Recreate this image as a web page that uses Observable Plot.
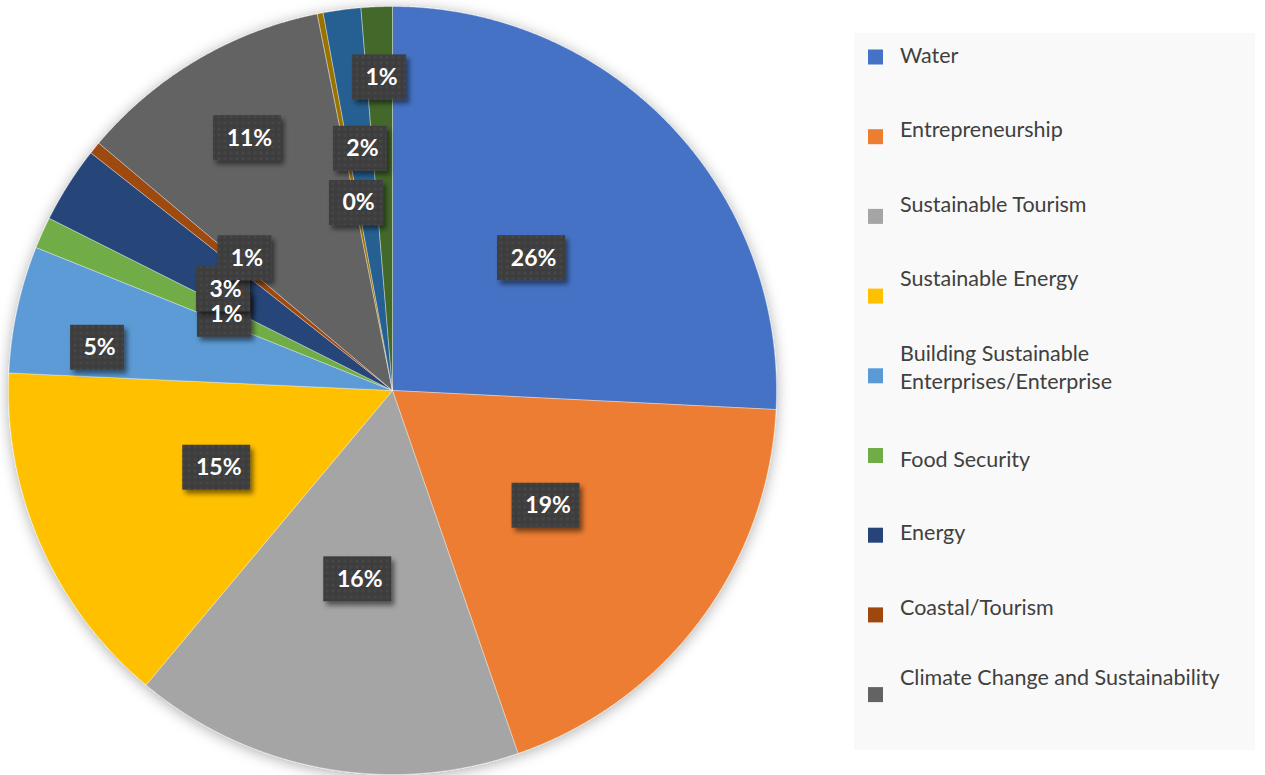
<!DOCTYPE html>
<html><head><meta charset="utf-8">
<script src="https://cdn.jsdelivr.net/npm/d3@7"></script>
<script src="https://cdn.jsdelivr.net/npm/@observablehq/plot@0.6"></script>
<style>
body{margin:0;background:#fff;}
#wrap{position:relative;width:1265px;height:775px;overflow:hidden;}
#chart{position:absolute;left:0;top:0;}
#legend{position:absolute;left:854px;top:33px;}
</style></head><body><div id="wrap"><div id="chart"></div><div id="legend"></div></div>
<script>
// ---- data ----
const categories = ["Water","Entrepreneurship","Sustainable Tourism","Sustainable Energy","Building Sustainable Enterprises/Enterprise","Food Security","Energy","Coastal/Tourism","Climate Change and Sustainability","Category 10","Category 11","Category 12"];
const shares = [25.79,18.91,16.39,14.64,5.34,1.33,3.22,0.52,10.72,0.25,1.58,1.31];
const colors = ["#4472C4","#ED7D31","#A5A5A5","#FFC000","#5B9BD5","#70AD47","#264478","#9E480E","#636363","#997300","#255E91","#43682B"];
const legendLines = [["Water"],["Entrepreneurship"],["Sustainable Tourism"],["Sustainable Energy"],["Building Sustainable","Enterprises/Enterprise"],["Food Security"],["Energy"],["Coastal/Tourism"],["Climate Change and Sustainability"]];

// ---- layout ----
const labelRadius = [0.50,0.50,0.50,0.50,0.776,0.48,0.513,0.516,0.758,0.497,0.635,0.816];
const labelNudgeDeg = [0,0,0,0,-4,0,-1.5,2.7,0.7,0,0,0];
const R = 384, CX = 392, CY = 390;

const total = d3.sum(shares);
const rows = categories.map((name, i) => ({name, share: shares[i], i}));
const arcs = d3.pie().sort(null).value(d => d.share).startAngle(0).endAngle(2 * Math.PI)(rows);

const piePts = [];
for (const a of arcs) {
  const name = a.data.name;
  piePts.push({name, x: 0, y: 0});
  const n = Math.max(2, Math.ceil((a.endAngle - a.startAngle) / (Math.PI / 720)));
  for (let k = 0; k <= n; k++) {
    const t = a.startAngle + (a.endAngle - a.startAngle) * k / n;
    piePts.push({name, x: Math.sin(t), y: Math.cos(t)});
  }
  piePts.push({name, x: 0, y: 0});
}

const labels = arcs.map(a => {
  const i = a.data.i;
  const mid = (a.startAngle + a.endAngle) / 2 + labelNudgeDeg[i] * Math.PI / 180;
  const r = labelRadius[i];
  const label = Math.round(a.data.share / total * 100) + "%";
  const w = (label.length > 2 ? 68 : 54) / 2 / R, h = 45 / 2 / R;
  const x = r * Math.sin(mid), y = r * Math.cos(mid);
  return {label, x, y, x1: x - w, x2: x + w, y1: y - h, y2: y + h};
});

const plot = Plot.plot({
  width: 1265, height: 775, margin: 0,
  x: {domain: [-1, 1], range: [CX - R, CX + R], axis: null},
  y: {domain: [-1, 1], range: [CY + R, CY - R], axis: null},
  color: {domain: categories, range: colors},
  marks: [
    Plot.line(piePts, {x: "x", y: "y", z: "name", fill: "name", stroke: "#ffffff", strokeOpacity: 0.45, strokeWidth: 0.8, curve: "linear"}),
    Plot.rect(labels, {x1: "x1", x2: "x2", y1: "y1", y2: "y2", fill: "url(#tex)"}),
    Plot.text(labels, {x: "x", y: "y", text: "label", fill: "white", fontSize: 23, fontWeight: "bold", fontFamily: "Lato", dx: 2})
  ]
});

const svg = d3.select(plot);
const defs = svg.insert("defs", ":first-child");
const pat = defs.append("pattern").attr("id", "tex").attr("width", 6).attr("height", 6).attr("patternUnits", "userSpaceOnUse");
pat.append("rect").attr("width", 6).attr("height", 6).attr("fill", "#3e3e3e");
pat.append("circle").attr("cx", 3).attr("cy", 3).attr("r", 1.8).attr("fill", "#454545");
const f1 = defs.append("filter").attr("id", "pieShadow").attr("x", "-10%").attr("y", "-10%").attr("width", "120%").attr("height", "120%");
f1.append("feDropShadow").attr("dx", 0).attr("dy", 2).attr("stdDeviation", 7).attr("flood-color", "#000").attr("flood-opacity", 0.32);
const f2 = defs.append("filter").attr("id", "boxShadow").attr("x", "-30%").attr("y", "-30%").attr("width", "160%").attr("height", "160%");
f2.append("feDropShadow").attr("dx", 3).attr("dy", 4).attr("stdDeviation", 2.5).attr("flood-color", "#000").attr("flood-opacity", 0.5);
svg.select('g[aria-label="line"]').attr("filter", "url(#pieShadow)");
svg.selectAll('g[aria-label="rect"] rect').attr("filter", "url(#boxShadow)");
document.getElementById("chart").appendChild(plot);

// ---- legend ----
const legendBaselines = [63, 137, 212, 286, 361, 467, 540, 615, 685];
const lg = d3.select("#legend").append("svg").attr("width", 401).attr("height", 717);
lg.append("rect").attr("width", 401).attr("height", 717).attr("fill", "#f9f9f9");
legendLines.forEach((lines, i) => {
  const mc = 57 + 79.7 * i;
  lg.append("rect").attr("x", 14).attr("y", mc - 33 - 7.5).attr("width", 15).attr("height", 15).attr("fill", colors[i]);
  lines.forEach((t, j) => {
    lg.append("text").attr("x", 46).attr("y", legendBaselines[i] - 33 + j * 28)
      .attr("font-family", "Lato").attr("font-size", 21.5).attr("fill", "#404040").text(t);
  });
});
</script></body></html>
